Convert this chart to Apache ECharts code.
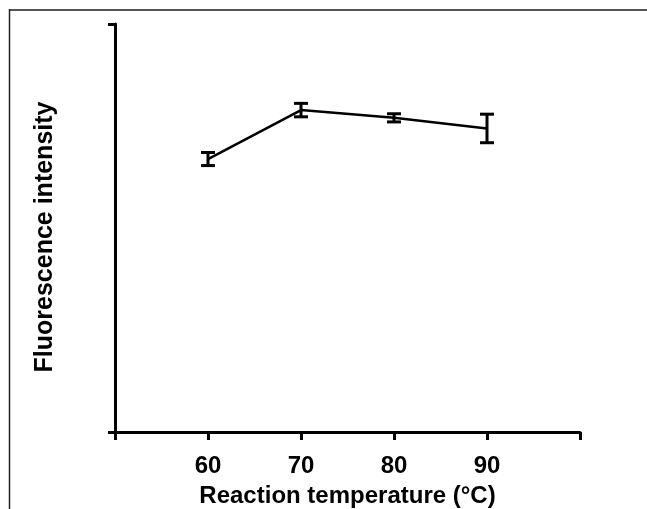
<!DOCTYPE html>
<html>
<head>
<meta charset="utf-8">
<script src="https://cdn.jsdelivr.net/npm/echarts@6/dist/echarts.min.js"></script>
<style>
body{
	margin:0;
	background:#fff;
}
#chart{
	width:647px;
	height:509px;
}
</style>
</head>
<body>
<div id="chart"></div>
<script type="text/javascript">
// reaction temperature (°C) vs fluorescence intensity (arbitrary units)
var temps = [60, 70, 80, 90];
var intensity = [66.9, 78.9, 77.0, 74.4];
var errs = [1.6, 1.65, 1.0, 3.5];
var xTickLabels = ['60', '70', '80', '90'];

var font = 'Liberation Sans';

function setchart (id) {
	var chart = echarts.init(document.getElementById(id));
	var lineData = temps.map(function (t, i) { return [t, intensity[i]]; });
	var errData = temps.map(function (t, i) { return [t, intensity[i] - errs[i], intensity[i] + errs[i]]; });

	chart.setOption({
		animation: false,
		grid: {
			left: 115,
			right: 67,
			top: 24,
			bottom: 77,
			outerBoundsMode: 'none'
		},
		graphic: [
			// frame around the figure (top and left edges only)
			{ type: 'line', shape: { x1: 9, y1: 10, x2: 647, y2: 10 }, style: { stroke: '#555', lineWidth: 2 } },
			{ type: 'line', shape: { x1: 9.5, y1: 9, x2: 9.5, y2: 509 }, style: { stroke: '#222', lineWidth: 1.5 } }
		],
		xAxis: {
			type: 'value',
			min: 50,
			max: 100,
			interval: 10,
			name: 'Reaction temperature (°C)',
			nameLocation: 'middle',
			nameGap: 52,
			nameTextStyle: {
				color: '#000',
				fontFamily: font,
				fontWeight: 'bold',
				fontSize: 24
			},
			axisLine: { lineStyle: { color: '#000', width: 3 } },
			axisTick: { show: true, length: 8, lineStyle: { color: '#000', width: 3 } },
			splitLine: { show: false },
			axisLabel: {
				color: '#000',
				fontFamily: font,
				fontWeight: 'bold',
				fontSize: 24,
				margin: 22,
				formatter: function (v) {
					var s = String(v);
					return xTickLabels.indexOf(s) >= 0 ? s : '';
				}
			}
		},
		yAxis: {
			type: 'value',
			min: 0,
			max: 100,
			interval: 100,
			name: 'Fluorescence intensity',
			nameLocation: 'middle',
			nameGap: 57,
			nameTextStyle: {
				color: '#000',
				fontFamily: font,
				fontWeight: 'bold',
				fontSize: 25,
				padding: [0, 18, 0, 0]
			},
			axisLine: { lineStyle: { color: '#000', width: 3 } },
			axisTick: { show: true, length: 7, lineStyle: { color: '#000', width: 3 } },
			splitLine: { show: false },
			axisLabel: { show: false }
		},
		series: [
			{
				type: 'line',
				data: lineData,
				symbol: 'none',
				lineStyle: { color: '#000', width: 2.5 },
				z: 2
			},
			{
				type: 'custom',
				data: errData,
				z: 3,
				renderItem: function (params, api) {
					var x = api.value(0);
					var lo = api.coord([x, api.value(1)]);
					var hi = api.coord([x, api.value(2)]);
					var hw = 7;
					var st = { stroke: '#000', lineWidth: 3 };
					return {
						type: 'group',
						children: [
							{ type: 'line', shape: { x1: lo[0], y1: lo[1], x2: hi[0], y2: hi[1] }, style: st },
							{ type: 'line', shape: { x1: lo[0] - hw, y1: lo[1], x2: lo[0] + hw, y2: lo[1] }, style: st },
							{ type: 'line', shape: { x1: hi[0] - hw, y1: hi[1], x2: hi[0] + hw, y2: hi[1] }, style: st }
						]
					};
				}
			}
		]
	});
	return chart;
}

var chartObj = setchart('chart');
</script>
</body>
</html>
